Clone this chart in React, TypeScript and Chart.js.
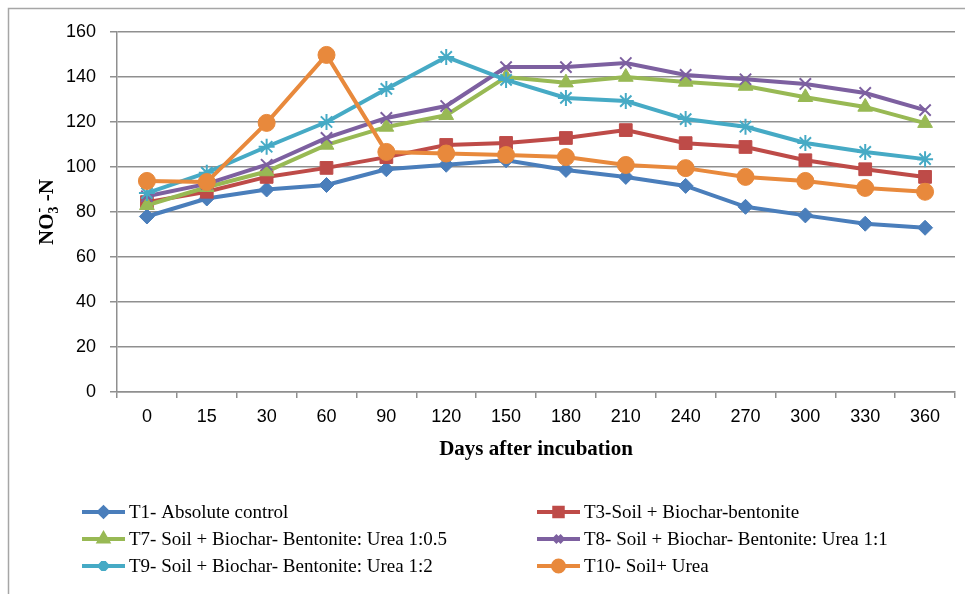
import React, { useEffect, useRef } from "react";
import { Chart, registerables } from "chart.js";
import { drawPoint } from "chart.js/helpers";

Chart.register(...registerables);

const days = ["0", "15", "30", "60", "90", "120", "150", "180", "210", "240", "270", "300", "330", "360"];
const yTicks = [0, 20, 40, 60, 80, 100, 120, 140, 160];

const seriesNames = [
  "T1- Absolute control",
  "T3-Soil + Biochar-bentonite",
  "T7- Soil + Biochar- Bentonite: Urea 1:0.5",
  "T8- Soil + Biochar- Bentonite: Urea 1:1",
  "T9- Soil + Biochar- Bentonite: Urea 1:2",
  "T10- Soil+ Urea",
];

const t1 = [78, 86, 90, 92, 99, 101, 103, 98.7, 95.6, 91.6, 82.3, 78.5, 74.8, 73];
const t3 = [84.4, 89, 95.6, 99.6, 104.4, 109.8, 110.7, 112.9, 116.4, 110.6, 108.9, 103, 99, 95.6];
const t7 = [83, 91, 98, 109.8, 117.8, 123, 140, 137.5, 140, 137.8, 136, 131, 126.7, 119.5];
const t8 = [87, 92.5, 101, 112.9, 121.8, 127.1, 144.4, 144.4, 146.2, 140.9, 139, 136.9, 132.9, 125.3];
const t9 = [88.4, 97.5, 109, 120, 134.7, 148.9, 138.7, 130.7, 129.3, 121.3, 117.9, 110.7, 106.7, 103.5];
const t10 = [93.8, 93.3, 119.6, 149.8, 106.7, 106, 105.3, 104.4, 100.9, 99.5, 95.6, 93.8, 90.7, 89];

const seriesValues = [t1, t3, t7, t8, t9, t10];
const colors = ["#4A7EBB", "#BE4B48", "#98B954", "#7D60A0", "#46AAC5", "#E8893C"];
const styles = ["rectRot", "rect", "triangle", "crossRot", "star", "circle"];
const radii = [7.5, 9, 8.5, 8, 8, 8.5];
const legendRadii = [4.5, 6, 5, 5, 5, 5.5];

const frameAndLegend = {
  id: "frameAndLegend",
  beforeDraw(chart: any) {
    const ctx = chart.ctx;
    ctx.save();
    ctx.fillStyle = "#ffffff";
    ctx.fillRect(0, 0, chart.width, chart.height);
    ctx.strokeStyle = "#a6a6a6";
    ctx.lineWidth = 1.5;
    ctx.beginPath();
    ctx.moveTo(8.5, chart.height);
    ctx.lineTo(8.5, 8.5);
    ctx.lineTo(chart.width, 8.5);
    ctx.stroke();
    ctx.restore();
  },
  afterDraw(chart: any) {
    const ctx = chart.ctx;
    ctx.save();
    // y axis title: NO3- -N
    ctx.translate(46, 212);
    ctx.rotate(-Math.PI / 2);
    const big = "bold 21px 'Liberation Serif'";
    const small = "bold 14px 'Liberation Serif'";
    ctx.fillStyle = "#000";
    ctx.textBaseline = "alphabetic";
    ctx.font = big;
    const w1 = ctx.measureText("NO").width;
    const w3 = ctx.measureText(" -N").width;
    ctx.font = small;
    const w2 = Math.max(ctx.measureText("3").width, ctx.measureText("-").width);
    const total = w1 + w2 + w3;
    let x = -total / 2;
    const base = 7;
    ctx.font = big;
    ctx.fillText("NO", x, base);
    x += w1;
    ctx.font = small;
    ctx.fillText("3", x, base + 5);
    ctx.fillText("-", x + 1, base - 10);
    x += w2;
    ctx.font = big;
    ctx.fillText(" -N", x, base);
    ctx.restore();

    // legend
    ctx.save();
    chart.data.datasets.forEach((ds: any, i: number) => {
      const col = i % 2;
      const row = Math.floor(i / 2);
      const x0 = col === 0 ? 82 : 537;
      const y = 512 + row * 27;
      ctx.strokeStyle = ds.borderColor;
      ctx.lineWidth = 4;
      ctx.beginPath();
      ctx.moveTo(x0, y);
      ctx.lineTo(x0 + 43, y);
      ctx.stroke();
      ctx.fillStyle = ds.backgroundColor;
      ctx.strokeStyle = ds.borderColor;
      drawPoint(ctx, { pointStyle: ds.pointStyle, rotation: 0, radius: legendRadii[i], borderWidth: 1.5 }, x0 + 21.5, y);
      ctx.fillStyle = "#000";
      ctx.font = "19px 'Liberation Serif'";
      ctx.textBaseline = "middle";
      ctx.textAlign = "left";
      ctx.fillText(ds.label, x0 + 47, y + 1);
    });
    ctx.restore();
  },
};

export default function App() {
  const ref = useRef<HTMLCanvasElement>(null);
  useEffect(() => {
    if (!ref.current) return;
    const chart = new Chart(ref.current, {
      type: "line",
      data: {
        labels: days,
        datasets: seriesValues.map((vals, i) => ({
          label: seriesNames[i],
          data: vals,
          borderColor: colors[i],
          backgroundColor: colors[i],
          borderWidth: 4,
          pointStyle: styles[i] as any,
          pointRadius: radii[i],
          pointBorderWidth: styles[i] === "crossRot" || styles[i] === "star" ? 2 : 1,
          pointBackgroundColor: colors[i],
          pointBorderColor: colors[i],
          tension: 0,
          order: seriesValues.length - i,
        })),
      },
      options: {
        responsive: false,
        animation: false,
        layout: { padding: { left: 0, top: 32, right: 10, bottom: 127 } },
        plugins: { legend: { display: false }, tooltip: { enabled: false } },
        scales: {
          x: {
            offset: true,
            grid: { display: true, drawOnChartArea: false, drawTicks: true, tickLength: 6, color: "#8f8f8f", lineWidth: 1.5, offset: true },
            border: { color: "#8f8f8f", width: 1.5 },
            ticks: { color: "#000", font: { family: "'Liberation Sans'", size: 18 }, padding: 8, maxRotation: 0, autoSkip: false },
            title: {
              display: true,
              text: "Days after incubation",
              color: "#000",
              font: { family: "'Liberation Serif'", size: 21, weight: "bold" },
              padding: { top: 4, bottom: 5 },
            },
            afterFit: (s: any) => { s.height = 75; },
          },
          y: {
            min: 0,
            max: 160,
            afterBuildTicks: (s: any) => { s.ticks = yTicks.map((v) => ({ value: v })); },
            grid: { color: "#8f8f8f", lineWidth: 1.5, tickLength: 7 },
            border: { color: "#8f8f8f", width: 1.5 },
            ticks: { color: "#000", font: { family: "'Liberation Sans'", size: 18 }, padding: 14 },
            afterFit: (s: any) => { s.width = 117; },
          },
        },
      },
      plugins: [frameAndLegend],
    });
    return () => chart.destroy();
  }, []);
  return (
    <div style={{ position: "fixed", left: 0, top: 0, width: 965, height: 594, background: "#fff" }}>
      <canvas ref={ref} width={965} height={594} style={{ width: 965, height: 594, display: "block" }} />
    </div>
  );
}
